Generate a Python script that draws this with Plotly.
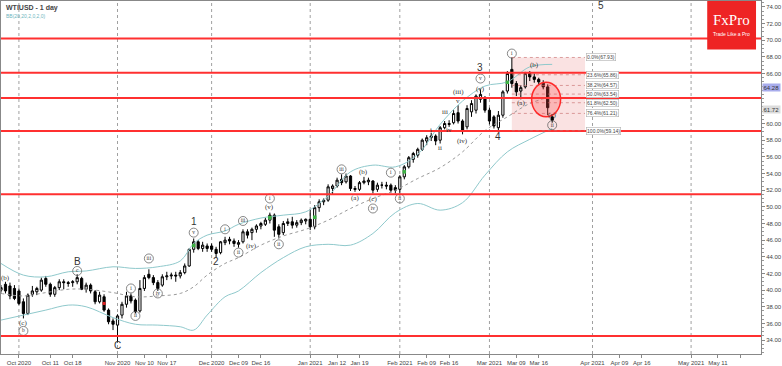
import plotly.graph_objects as go
import pandas as pd

# ---------------- data ----------------
holidays = ["2020-12-25", "2021-01-01"]
dates = [d for d in pd.bdate_range("2020-09-25", "2021-03-19") if d.strftime("%Y-%m-%d") not in holidays]

opens = [40.0, 40.7, 40.5, 40.2,
         39.9, 38.6, 37.2, 39.5, 39.8, 40.0, 41.4, 40.7, 39.5, 40.3, 41.0, 40.9, 40.9, 41.0, 41.4, 40.1, 40.6, 39.8, 38.6, 39.2, 37.6, 36.3,
         35.8, 37.0, 38.3, 39.3, 38.8, 37.5, 40.2, 41.9, 41.5, 40.9, 40.6, 41.6, 41.7, 41.8, 41.7, 42.1, 42.9, 44.9, 45.8, 45.0, 45.3,
         45.3, 44.9, 44.5, 45.7, 46.1, 45.9, 45.5, 45.8, 47.0, 46.9, 47.3, 47.7, 47.9, 48.4, 49.0, 47.6, 46.9, 48.0, 48.2, 47.8, 48.1, 48.3,
         48.5, 47.6, 49.9, 50.6, 50.8, 52.2, 52.5, 53.3, 53.0, 53.7, 52.2, 52.1, 52.9, 53.0, 53.1, 52.1, 52.6, 52.6, 52.6, 52.3,
         52.1, 53.6, 54.8, 55.7, 56.2, 56.9, 57.9, 58.3, 58.5, 58.0, 59.5, 60.0, 60.1, 61.3, 60.3, 59.6, 61.4, 61.6, 62.9, 63.1,
         61.6, 60.8, 59.5, 61.0, 63.9, 66.5, 64.8, 63.9, 64.4, 66.0, 65.6, 65.3, 64.9, 64.4, 60.8]
highs = [40.6, 41.0, 40.9, 40.6,
         40.2, 39.0, 39.6, 40.5, 40.4, 41.5, 41.7, 40.9, 40.5, 41.3, 41.3, 41.1, 41.2, 41.9, 41.6, 40.9, 40.8, 40.0, 39.8, 39.5, 37.8, 36.6,
         37.1, 38.6, 39.8, 39.6, 39.0, 41.2, 41.8, 42.5, 41.8, 41.2, 41.9, 42.2, 42.1, 42.2, 42.4, 43.2, 45.0, 46.2, 46.0, 45.8, 45.6,
         45.6, 45.2, 45.9, 46.4, 46.4, 46.2, 46.0, 47.3, 47.3, 47.5, 47.9, 48.2, 48.7, 49.3, 49.2, 47.9, 48.3, 48.6, 48.8, 48.4, 48.6, 48.6,
         49.7, 50.2, 50.9, 51.0, 52.7, 52.7, 53.5, 53.9, 54.0, 53.8, 52.5, 53.1, 53.6, 53.5, 53.2, 52.9, 53.0, 53.0, 52.8, 52.6,
         53.8, 55.0, 56.1, 56.6, 57.1, 58.2, 58.6, 58.9, 58.7, 59.7, 60.3, 60.4, 61.6, 62.2, 60.5, 62.2, 62.8, 63.5, 64.1, 63.3,
         61.9, 61.0, 61.5, 64.0, 66.3, 67.93, 65.1, 64.6, 66.2, 66.3, 66.0, 65.5, 65.2, 64.7, 61.1]
lows = [39.7, 39.6, 38.9, 38.8,
        38.2, 36.6, 37.0, 39.2, 39.4, 39.8, 40.4, 39.2, 39.2, 40.0, 40.1, 40.4, 40.4, 40.7, 40.0, 39.7, 39.6, 38.3, 38.4, 37.4, 35.9, 35.2,
        33.7, 36.6, 37.9, 38.4, 37.2, 37.3, 39.9, 41.3, 40.6, 39.9, 40.4, 41.2, 41.3, 41.0, 41.4, 41.9, 42.8, 44.5, 44.8, 44.6, 44.6,
        44.6, 43.9, 44.3, 45.4, 45.5, 45.2, 45.1, 45.6, 46.2, 46.0, 46.9, 47.3, 47.7, 48.0, 46.4, 46.2, 46.6, 47.7, 47.4, 47.5, 47.8, 47.9,
        47.2, 47.3, 49.4, 50.2, 50.6, 51.5, 52.3, 52.6, 52.8, 51.9, 51.8, 51.9, 52.7, 52.6, 51.6, 51.8, 52.2, 52.1, 51.7, 51.6,
        51.6, 53.3, 54.6, 55.3, 55.9, 56.7, 57.4, 57.9, 57.4, 57.6, 59.3, 59.6, 59.9, 60.0, 58.7, 59.3, 60.8, 61.2, 62.5, 61.3,
        59.9, 59.4, 59.14, 60.7, 63.6, 64.3, 63.3, 62.9, 64.2, 65.1, 64.9, 64.6, 64.1, 61.0, 60.1]
closes = [40.3, 39.9, 39.3, 39.0,
          38.4, 37.2, 39.4, 39.9, 40.2, 41.2, 40.7, 39.5, 40.3, 41.0, 40.9, 40.8, 41.0, 41.5, 40.1, 40.6, 39.9, 38.6, 39.4, 37.6, 36.2, 35.9,
          36.9, 38.3, 39.3, 38.7, 37.4, 40.2, 41.5, 41.5, 40.9, 40.2, 41.6, 41.7, 41.8, 41.7, 42.1, 42.9, 44.9, 45.8, 45.0, 45.4, 45.0,
          44.9, 44.4, 45.8, 46.0, 45.9, 45.6, 45.7, 47.0, 46.6, 47.3, 47.7, 48.0, 48.4, 49.0, 47.2, 46.7, 48.0, 48.2, 47.8, 48.1, 48.4, 48.5,
          47.6, 49.9, 50.6, 50.8, 52.4, 52.5, 53.2, 52.9, 53.7, 52.2, 52.1, 52.9, 53.1, 53.2, 52.0, 52.6, 52.6, 52.5, 52.0, 52.0,
          53.6, 54.8, 55.9, 56.4, 56.9, 58.0, 58.3, 58.5, 57.9, 59.5, 60.0, 59.9, 61.2, 60.3, 59.1, 61.8, 62.4, 63.3, 63.5, 61.6,
          60.3, 59.7, 61.0, 63.8, 66.0, 64.8, 63.8, 64.3, 66.0, 65.6, 65.3, 65.0, 64.4, 61.9, 60.4]

# Bollinger band (20, 2) values
band_dates = ["2020-09-25", "2020-10-02", "2020-10-09", "2020-10-16", "2020-10-22", "2020-10-30", "2020-11-06",
              "2020-11-13", "2020-11-20", "2020-11-25", "2020-11-30", "2020-12-04", "2020-12-09", "2020-12-16",
              "2020-12-23", "2020-12-31", "2021-01-08", "2021-01-15", "2021-01-22", "2021-01-29", "2021-02-05",
              "2021-02-12", "2021-02-19", "2021-02-26", "2021-03-05", "2021-03-12", "2021-03-19"]
bb_upper = [43.2, 41.8, 41.6, 42.2, 42.3, 42.8, 42.6, 42.8, 43.5, 45.6, 46.6, 47.1, 47.9, 48.65,
            49.0, 49.4, 51.3, 54.2, 55.0, 54.8, 56.3, 59.9, 62.7, 64.5, 65.0, 66.8, 67.1]
bb_middle = [39.6, 39.3, 39.7, 40.1, 40.1, 39.7, 39.2, 39.3, 39.6, 40.4, 41.8, 43.2, 43.9, 45.4,
             46.5, 47.3, 48.4, 49.8, 51.0, 52.0, 53.4, 54.7, 56.6, 59.15, 60.8, 62.4, 63.25]
bb_lower = [36.4, 37.0, 37.6, 38.2, 38.0, 36.7, 35.9, 35.8, 35.6, 35.2, 37.0, 39.2, 39.9, 42.1,
            43.9, 45.2, 45.5, 45.4, 46.8, 49.3, 50.4, 49.6, 50.5, 53.8, 56.6, 58.1, 59.4]

# support / resistance levels
red_levels = [70.2, 66.1, 63.05, 59.1, 51.5, 34.5]

# fibonacci retracement
fib_start, fib_end = "2021-03-08", "2021-03-30 08:00"
fib_high, fib_low = 67.93, 59.14
fib_ratios = [0.0, 0.236, 0.382, 0.5, 0.618, 0.764, 1.0]

# signal marks on candles
green_dates = ["2020-11-25", "2020-12-18", "2021-01-05", "2021-02-02", "2021-03-05"]
red_mark_dates = ["2020-10-28"]

# month separators and axis ticks
month_lines = ["2020-10-01", "2020-11-02", "2020-12-01", "2021-01-04", "2021-02-01", "2021-03-01", "2021-04-01", "2021-05-03"]
tick_dates = ["2020-10-01", "2020-10-12", "2020-10-19", "2020-11-02", "2020-11-10", "2020-11-17", "2020-12-01",
              "2020-12-09", "2020-12-16", "2021-01-04", "2021-01-12", "2021-01-19", "2021-02-01", "2021-02-09",
              "2021-02-16", "2021-03-01", "2021-03-09", "2021-03-16", "2021-04-01", "2021-04-09", "2021-04-16",
              "2021-05-03", "2021-05-11", "2021-05-18"]
tick_texts = ["Oct 2020", "Oct 11", "Oct 18", "Nov 2020", "Nov 10", "Nov 17", "Dec 2020", "Dec 09", "Dec 16",
              "Jan 2021", "Jan 12", "Jan 19", "Feb 2021", "Feb 09", "Feb 16", "Mar 2021", "Mar 09", "Mar 16",
              "Apr 2021", "Apr 09", "Apr 16", "May 2021", "May 11", ""]
price_ticks = [34, 36, 38, 40, 42, 44, 46, 48, 50, 52, 54, 56, 58, 60, 66, 68, 70, 72, 74]

# Elliott wave labels
plain_dates = ["2020-09-28", "2020-10-02", "2020-12-14", "2020-12-18", "2021-01-18", "2021-01-20", "2021-01-22",
               "2021-02-10", "2021-02-12", "2021-02-15", "2021-02-16", "2021-02-18", "2021-02-18", "2021-02-19",
               "2021-02-25", "2021-03-10", "2021-03-15", "2021-03-19"]
plain_prices = [41.4, 36.1, 45.3, 50.0, 51.1, 54.2, 50.9, 59.2, 57.1, 61.4, 59.2, 62.7, 63.8, 57.9, 64.2, 62.45, 67.0, 61.0]
plain_texts = ["(b)", "(c)", "(iv)", "(v)", "(a)", "(b)", "(c)", "i", "ii", "iii", "iv", "v", "(iii)", "(iv)",
               "(v)", "(a)", "(b)", "(c)"]

circ_dates = ["2020-10-02", "2020-10-20", "2020-11-05", "2020-11-06", "2020-11-11", "2020-11-13", "2020-11-25",
              "2020-12-04", "2020-12-09", "2020-12-10", "2020-12-18", "2020-12-22", "2021-01-13", "2021-01-22",
              "2021-01-28", "2021-02-01", "2021-02-25", "2021-03-08", "2021-03-19"]
circ_prices = [35.1, 42.3, 40.2, 36.9, 43.8, 39.6, 46.9, 47.3, 44.5, 48.3, 51.0, 45.5, 54.5, 49.8, 54.1, 51.0,
               65.4, 68.4, 59.8]
circ_texts = ["b", "c", "i", "ii", "iii", "iv", "v", "i", "ii", "iii", "i", "ii", "iii", "iv", "i", "ii", "v", "i", "ii"]

big_dates = ["2020-10-20", "2020-11-02", "2020-11-25", "2020-12-02", "2021-02-25", "2021-03-03", "2021-04-05"]
big_prices = [43.4, 33.4, 48.2, 43.4, 66.7, 58.4, 74.2]
big_texts = ["B", "C", "1", "2", "3", "4", "5"]

# right-axis price tags
tag_values = [64.28, 61.72]
tag_colors = ["#a8acec", "#dcdcdc"]

# ---------------- figure ----------------
fig = go.Figure()

band_col = "#8fc9cc"
fig.add_trace(go.Scatter(x=band_dates, y=bb_upper, mode="lines", line=dict(color=band_col, width=1, shape="spline"),
                         hoverinfo="skip"))
fig.add_trace(go.Scatter(x=band_dates, y=bb_lower, mode="lines", line=dict(color=band_col, width=1, shape="spline"),
                         hoverinfo="skip"))
fig.add_trace(go.Scatter(x=band_dates, y=bb_middle, mode="lines",
                         line=dict(color="#9a9a9a", width=1, dash="dot", shape="spline"), hoverinfo="skip"))

fig.add_trace(go.Candlestick(
    x=dates, open=opens, high=highs, low=lows, close=closes,
    increasing=dict(fillcolor="white", line=dict(color="black", width=1)),
    decreasing=dict(fillcolor="black", line=dict(color="black", width=1)),
    whiskerwidth=0, hoverinfo="skip"))

cl = {d.strftime("%Y-%m-%d"): (o + c) / 2 for d, o, c in zip(dates, opens, closes)}
fig.add_trace(go.Scatter(x=green_dates, y=[cl[d] for d in green_dates], mode="markers",
                         marker=dict(symbol="square", size=3.5, color="#3cb043"), hoverinfo="skip"))
fig.add_trace(go.Scatter(x=red_mark_dates, y=[cl[d] for d in red_mark_dates], mode="markers",
                         marker=dict(symbol="square", size=3, color="#e02020"), hoverinfo="skip"))

# circled wave labels
fig.add_trace(go.Scatter(x=circ_dates, y=circ_prices, mode="markers+text", text=circ_texts,
                         textposition="middle center",
                         textfont=dict(family="Liberation Serif", size=5.5, color="#333"),
                         marker=dict(symbol="circle-open", size=9, color="#555", line=dict(width=0.7)),
                         hoverinfo="skip", cliponaxis=False))

shapes = []
for lv in red_levels:
    shapes.append(dict(type="line", xref="paper", x0=0, x1=1, yref="y", y0=lv, y1=lv,
                       line=dict(color="#ff3030", width=2)))
for md in month_lines:
    shapes.append(dict(type="line", xref="x", x0=md, x1=md, yref="paper", y0=0, y1=1,
                       line=dict(color="#a0a0a0", width=1, dash="dot"), layer="below"))
# fib zone
shapes.append(dict(type="rect", xref="x", x0=fib_start, x1=fib_end, yref="y", y0=fib_low, y1=fib_high,
                   fillcolor="rgba(235,140,140,0.25)", line=dict(width=0), layer="below"))
annotations = []
for r in fib_ratios:
    lv = fib_high - r * (fib_high - fib_low)
    shapes.append(dict(type="line", xref="x", x0=fib_start, x1=fib_end, yref="y", y0=lv, y1=lv,
                       line=dict(color="rgba(200,110,110,0.8)", width=0.8, dash="dot")))
    annotations.append(dict(x=fib_end, y=lv, xref="x", yref="y", text=f"{r*100:.1f}%({lv:.2f})",
                            showarrow=False, xanchor="left", yanchor="middle", xshift=1,
                            font=dict(family="Liberation Sans", size=5, color="#444"),
                            bgcolor="white", bordercolor="#b0b0b0", borderwidth=0.6, borderpad=0.5))
# red circle highlight
shapes.append(dict(type="circle", xref="x", yref="y", x0="2021-03-12 10:00", x1="2021-03-22 21:00",
                   y0=60.8, y1=64.95, fillcolor="rgba(255,70,70,0.28)", line=dict(color="#ff2a2a", width=1.5)))
# FxPro logo
shapes.append(dict(type="rect", xref="paper", yref="paper", x0=709 / 763, x1=758 / 763, y0=1 - 49 / 356, y1=1,
                   fillcolor="#ee2424", line=dict(width=0)))

for d, p, t in zip(plain_dates, plain_prices, plain_texts):
    annotations.append(dict(x=d, y=p, text=t, showarrow=False, xanchor="center", yanchor="middle",
                            font=dict(family="Liberation Serif", size=7, color="#333")))
for d, p, t in zip(big_dates, big_prices, big_texts):
    annotations.append(dict(x=d, y=p, text=t, showarrow=False, xanchor="center", yanchor="middle",
                            font=dict(family="Liberation Sans", size=10, color="#333")))
for v, c in zip(tag_values, tag_colors):
    annotations.append(dict(x=1, xref="paper", y=v, yref="y", text=f"{v:.2f}", showarrow=False,
                            xanchor="left", yanchor="middle", xshift=1, bgcolor=c, borderpad=0.5,
                            font=dict(family="Liberation Sans", size=6, color="#333")))

annotations += [
    dict(x=3 / 763, y=1, xref="paper", yref="paper", text="<b>WTIUSD - 1 day</b>", showarrow=False,
         xanchor="left", yanchor="top", yshift=-1, font=dict(family="Liberation Sans", size=7, color="#444")),
    dict(x=3 / 763, y=1, xref="paper", yref="paper", text="BB(20,20,2,0,2,0)", showarrow=False,
         xanchor="left", yanchor="top", yshift=-10, font=dict(family="Liberation Sans", size=5, color="#6fb6c0")),
    dict(x=733.5 / 763, y=1 - 19 / 356, xref="paper", yref="paper", text="FxPro", showarrow=False,
         xanchor="center", yanchor="middle", font=dict(family="Liberation Serif", size=15, color="white")),
    dict(x=733.5 / 763, y=1 - 33 / 356, xref="paper", yref="paper", text="Trade Like a Pro", showarrow=False,
         xanchor="center", yanchor="middle", font=dict(family="Liberation Sans", size=5, color="white")),
]

fig.update_layout(
    width=782, height=366, margin=dict(l=0, r=19, t=0, b=10),
    paper_bgcolor="white", plot_bgcolor="white", showlegend=False,
    shapes=shapes, annotations=annotations,
    xaxis=dict(type="date", range=["2020-09-25 00:00", "2021-05-24 14:24"],
               rangebreaks=[dict(bounds=["sat", "mon"]), dict(values=holidays)],
               rangeslider=dict(visible=False),
               tickmode="array", tickvals=tick_dates, ticktext=tick_texts,
               ticks="outside", ticklen=3, tickcolor="#888", tickfont=dict(family="Liberation Sans", size=6, color="#444"),
               showgrid=False, showline=True, linecolor="#888", linewidth=1, mirror=True, zeroline=False),
    yaxis=dict(side="right", range=[32.33, 74.71], tickmode="array", tickvals=price_ticks, tickformat=".2f",
               ticks="outside", ticklen=3, tickcolor="#888",
               minor=dict(dtick=0.5, tick0=0, ticks="outside", ticklen=2, tickcolor="#999"),
               tickfont=dict(family="Liberation Sans", size=6, color="#444"),
               showgrid=False, showline=True, linecolor="#888", linewidth=1, mirror=True, zeroline=False),
)

fig.write_html("out.html", config={"displayModeBar": False},
               post_script="document.body.style.margin='0';document.body.style.overflow='hidden';")
